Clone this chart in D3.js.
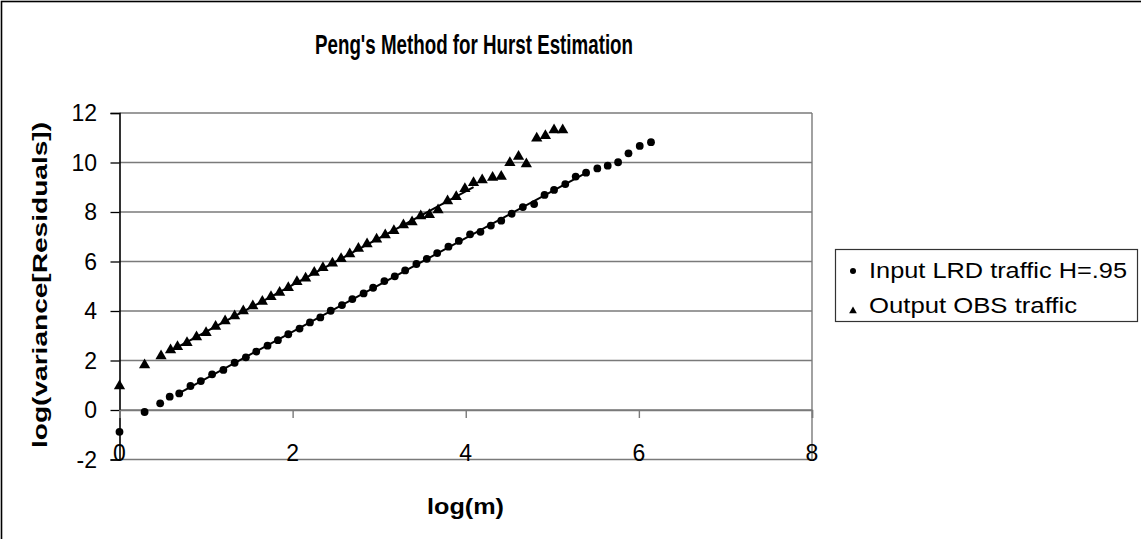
<!DOCTYPE html>
<html>
<head>
<meta charset="utf-8">
<script src="https://cdn.jsdelivr.net/npm/d3@7"></script>
<style>
  html, body { margin: 0; padding: 0; background: #fff; }
  svg { display: block; }
  text { font-family: "Liberation Sans", Arial, sans-serif; fill: #000; }
</style>
</head>
<body>
<svg id="chart" width="1141" height="539"></svg>
<script>
// Input LRD traffic (H = .95): log(m) vs log(variance of residuals)
const inputLogM = [0, 0.29, 0.47, 0.58, 0.69, 0.82, 0.94, 1.07, 1.20, 1.33, 1.46, 1.58, 1.71, 1.83, 1.95,
  2.08, 2.20, 2.32, 2.44, 2.57, 2.69, 2.82, 2.93, 3.06, 3.18, 3.30, 3.43, 3.55, 3.67, 3.80,
  3.92, 4.05, 4.17, 4.29, 4.41, 4.53, 4.66, 4.79, 4.91, 5.02, 5.15, 5.27, 5.39, 5.52, 5.64,
  5.76, 5.88, 6.01, 6.14];
const inputLogVar = [-0.88, -0.08, 0.27, 0.54, 0.67, 0.97, 1.17, 1.44, 1.62, 1.91, 2.13, 2.36, 2.60, 2.82, 3.06,
  3.29, 3.54, 3.74, 4.01, 4.24, 4.48, 4.71, 4.94, 5.21, 5.40, 5.64, 5.90, 6.11, 6.34, 6.60,
  6.83, 7.10, 7.20, 7.45, 7.65, 7.93, 8.20, 8.32, 8.69, 8.89, 9.13, 9.43, 9.59, 9.76, 9.87,
  10.01, 10.37, 10.67, 10.82];

// Output OBS traffic
const outputLogM = [0, 0.29, 0.48, 0.59, 0.67, 0.78, 0.89, 1.00, 1.11, 1.22, 1.33, 1.43, 1.54, 1.65, 1.75,
  1.85, 1.95, 2.05, 2.15, 2.25, 2.35, 2.46, 2.56, 2.66, 2.76, 2.86, 2.97, 3.07, 3.17, 3.28,
  3.38, 3.48, 3.58, 3.68, 3.79, 3.89, 3.99, 4.09, 4.19, 4.31, 4.41, 4.51, 4.61, 4.70, 4.82,
  4.92, 5.02, 5.12];
const outputLogVar = [0.97, 1.82, 2.18, 2.42, 2.56, 2.72, 2.95, 3.12, 3.37, 3.60, 3.80, 4.00, 4.20, 4.38, 4.58,
  4.75, 4.94, 5.18, 5.32, 5.56, 5.75, 5.93, 6.11, 6.30, 6.53, 6.71, 6.90, 7.07, 7.24, 7.47,
  7.60, 7.84, 7.89, 8.08, 8.44, 8.62, 8.94, 9.18, 9.29, 9.39, 9.43, 9.99, 10.24, 9.94, 10.98,
  11.08, 11.31, 11.31];

// log(m) range over which each linear fit is taken
const inputFitRange = [0.69, 5.39];
const outputFitRange = [0.59, 4.09];

const xTicks = [0, 2, 4, 6, 8];
const yTicks = [-2, 0, 2, 4, 6, 8, 10, 12];
const seriesNames = ["Input LRD traffic H=.95", "Output OBS traffic"];
const chartTitle = "Peng's Method for Hurst Estimation";
const xTitle = "log(m)";
const yTitle = "log(variance[Residuals])";

const svg = d3.select("#chart");

// outer chart frame
svg.append("rect")
  .attr("x", 1.5).attr("y", 1.5)
  .attr("width", 1150).attr("height", 550)
  .attr("fill", "#fff").attr("stroke", "#000").attr("stroke-width", 1.6);

const x = d3.scaleLinear().domain([0, 8]).range([119.5, 812]);
const y = d3.scaleLinear().domain([-2, 12]).range([459.5, 113]);

const grid = "#7a7a7a";

// horizontal gridlines
svg.append("g").selectAll("line").data(yTicks).join("line")
  .attr("x1", x(0)).attr("x2", x(8))
  .attr("y1", d => y(d)).attr("y2", d => y(d))
  .attr("stroke", grid).attr("stroke-width", 1.4);

// plot area right edge
svg.append("line")
  .attr("x1", x(8)).attr("x2", x(8)).attr("y1", y(12)).attr("y2", y(-2))
  .attr("stroke", grid).attr("stroke-width", 1.4);

// y axis with ticks on the left
const yAxis = svg.append("g")
  .attr("transform", `translate(${x(0)},0)`)
  .call(d3.axisLeft(y).tickValues(yTicks).tickSize(9).tickFormat(""));
yAxis.select(".domain").attr("stroke", "#000").attr("stroke-width", 1.6);
yAxis.selectAll(".tick line").attr("stroke", "#000").attr("stroke-width", 1.3);

// y tick labels
svg.append("g").selectAll("text").data(yTicks).join("text")
  .attr("x", 97).attr("y", d => y(d)).attr("dy", "0.36em")
  .attr("text-anchor", "end").attr("font-size", 23)
  .text(d => d);

// x axis crossing at y = 0, ticks pointing down
const xAxis = svg.append("g")
  .attr("transform", `translate(0,${y(0)})`)
  .call(d3.axisBottom(x).tickValues(xTicks).tickSize(8).tickFormat(""));
xAxis.select(".domain").attr("stroke", grid).attr("stroke-width", 1.4);
xAxis.selectAll(".tick line").attr("stroke", grid).attr("stroke-width", 1.4);

// x tick labels sit at the bottom of the plot area
svg.append("g").selectAll("text").data(xTicks).join("text")
  .attr("x", d => x(d)).attr("y", 461)
  .attr("text-anchor", "middle").attr("font-size", 23)
  .text(d => d);

// least-squares fit over a log(m) window
function fitLine(xs, ys, range) {
  const pts = xs.map((v, i) => [v, ys[i]]).filter(p => p[0] >= range[0] - 1e-9 && p[0] <= range[1] + 1e-9);
  const mx = d3.mean(pts, p => p[0]), my = d3.mean(pts, p => p[1]);
  const b = d3.sum(pts, p => (p[0] - mx) * (p[1] - my)) / d3.sum(pts, p => (p[0] - mx) ** 2);
  const a = my - b * mx;
  return [[range[0], a + b * range[0]], [range[1], a + b * range[1]]];
}

const line = d3.line().x(d => x(d[0])).y(d => y(d[1]));
[fitLine(inputLogM, inputLogVar, inputFitRange), fitLine(outputLogM, outputLogVar, outputFitRange)]
  .forEach(seg => {
    svg.append("path").attr("d", line(seg))
      .attr("fill", "none").attr("stroke", "#000").attr("stroke-width", 2);
  });

// markers
const inputPts = inputLogM.map((v, i) => [v, inputLogVar[i]]);
const outputPts = outputLogM.map((v, i) => [v, outputLogVar[i]]);

svg.append("g").selectAll("circle").data(inputPts).join("circle")
  .attr("cx", d => x(d[0])).attr("cy", d => y(d[1])).attr("r", 3.9)
  .attr("fill", "#000");

const tri = d3.symbol().type(d3.symbolTriangle).size(55);
svg.append("g").selectAll("path").data(outputPts).join("path")
  .attr("transform", d => `translate(${x(d[0])},${y(d[1])})`)
  .attr("d", tri).attr("fill", "#000");

// legend
const lg = svg.append("g");
lg.append("rect").attr("x", 835.5).attr("y", 249.5).attr("width", 302).attr("height", 72)
  .attr("fill", "#fff").attr("stroke", "#333").attr("stroke-width", 1.2);
lg.append("circle").attr("cx", 853).attr("cy", 271).attr("r", 3).attr("fill", "#000");
lg.append("path").attr("transform", "translate(853,311)")
  .attr("d", d3.symbol().type(d3.symbolTriangle).size(26)()).attr("fill", "#000");
lg.append("text").attr("x", 869).attr("y", 278).attr("font-size", 22)
  .attr("textLength", 258).attr("lengthAdjust", "spacingAndGlyphs").text(seriesNames[0]);
lg.append("text").attr("x", 869).attr("y", 313).attr("font-size", 22)
  .attr("textLength", 208).attr("lengthAdjust", "spacingAndGlyphs").text(seriesNames[1]);

// titles
svg.append("text").attr("x", 315).attr("y", 54)
  .attr("font-size", 28).attr("font-weight", "bold")
  .attr("textLength", 318).attr("lengthAdjust", "spacingAndGlyphs")
  .text(chartTitle);

svg.append("text").attr("x", 427).attr("y", 514)
  .attr("font-size", 22).attr("font-weight", "bold")
  .attr("textLength", 77).attr("lengthAdjust", "spacingAndGlyphs")
  .text(xTitle);

svg.append("text")
  .attr("transform", "translate(47,448) rotate(-90)")
  .attr("font-size", 21).attr("font-weight", "bold")
  .attr("textLength", 326).attr("lengthAdjust", "spacingAndGlyphs")
  .text(yTitle);
</script>
</body>
</html>
